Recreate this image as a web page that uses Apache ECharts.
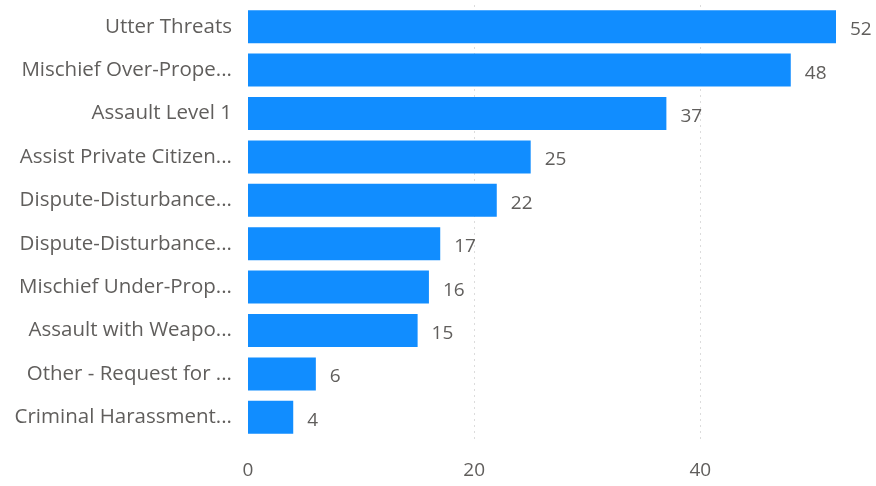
<!DOCTYPE html>
<html>
<head>
<meta charset="utf-8">
<script src="https://cdn.jsdelivr.net/npm/echarts@6/dist/echarts.min.js"></script>
<style>
html,body{margin:0;padding:0;background:#fff;}
#chart{width:876px;height:486px;}
</style>
</head>
<body>
<div id="chart"></div>
<script>
const categories = [
  "Utter Threats",
  "Mischief Over-Prope...",
  "Assault Level 1",
  "Assist Private Citizen...",
  "Dispute-Disturbance...",
  "Dispute-Disturbance...",
  "Mischief Under-Prop...",
  "Assault with Weapo...",
  "Other - Request for ...",
  "Criminal Harassment..."
];
const values = [52, 48, 37, 25, 22, 17, 16, 15, 6, 4];
const xTicks = [0, 20, 40];

const chart = echarts.init(document.getElementById('chart'));
chart.setOption({
  animation: false,
  grid: { left: 248, right: 40, top: 5, bottom: 47, containLabel: false },
  xAxis: {
    type: 'value',
    min: 0,
    max: 52,
    interval: 20,
    axisLine: { show: false },
    axisTick: { show: false },
    axisLabel: {
      showMaxLabel: false,
      margin: 22,
      color: '#605E5C',
      fontFamily: 'Open Sans',
      fontSize: 19,
      formatter: v => xTicks.includes(v) ? String(v) : ''
    },
    splitLine: {
      show: true,
      lineStyle: { type: [2, 4], width: 1, color: ['rgba(0,0,0,0)', '#dcdcdc', '#dcdcdc', 'rgba(0,0,0,0)'] }
    }
  },
  yAxis: {
    type: 'category',
    inverse: true,
    data: categories,
    axisLine: { show: false },
    axisTick: { show: false },
    axisLabel: {
      margin: 16,
      color: '#605E5C',
      fontFamily: 'Open Sans',
      fontSize: 20.5
    }
  },
  series: [{
    type: 'bar',
    data: values,
    barCategoryGap: '24%',
    itemStyle: { color: '#118DFF' },
    label: {
      show: true,
      position: 'right',
      distance: 14,
      offset: [0, 3],
      color: '#605E5C',
      fontFamily: 'Open Sans',
      fontSize: 19
    }
  }]
});
</script>
</body>
</html>
